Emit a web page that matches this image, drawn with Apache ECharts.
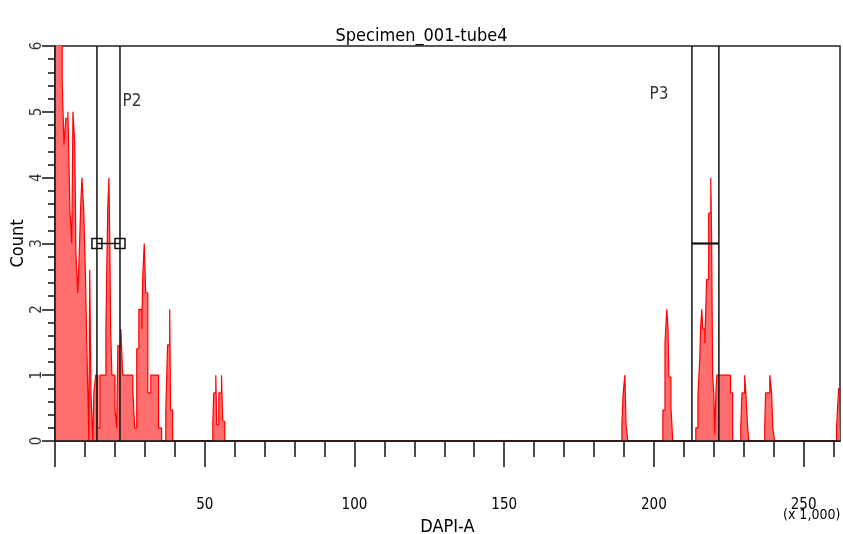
<!DOCTYPE html>
<html>
<head>
<meta charset="utf-8">
<script src="https://cdn.jsdelivr.net/npm/echarts@6/dist/echarts.min.js"></script>
<style>
html,body{margin:0;padding:0;background:#fff;}
#chart{width:843px;height:534px;}
</style>
</head>
<body>
<div id="chart"></div>
<script>
// DAPI-A bin left edges (x 1,000) and smoothed counts
const dapi = [0, 2.4, 3.0, 3.6, 4.3, 4.6, 5.0, 5.6, 6.0, 6.6, 7.0, 7.6, 8.0, 8.6, 9.0, 9.6, 10.2, 10.6, 11.0, 11.3, 11.6, 12.0, 12.6, 13.0, 13.6, 14.3, 15.0, 17.0, 17.6, 18.0, 18.3, 18.6, 19.0, 19.6, 20.0, 20.6, 21.0, 22.0, 22.6, 26.0, 26.6, 27.3, 28.0, 29.0, 29.3, 29.8, 30.3, 31.0, 32.0, 34.6, 35.6, 37.0, 37.6, 38.3, 38.6, 39.3,
  52.7, 53.0, 53.7, 54.0, 54.7, 55.6, 56.0, 56.7,
  189.3, 189.7, 190.3, 190.7, 191.3,
  203.0, 203.7, 204.3, 204.7, 205.0, 205.7, 206.3,
  214.0, 214.7, 215.3, 215.6, 216.0, 216.3, 217.0, 217.6, 218.3, 219.0, 219.3, 219.6, 220.0, 220.3, 220.7, 221.0, 225.6, 226.3,
  229.0, 229.4, 230.3, 230.7, 231.3, 231.7,
  237.0, 237.3, 238.7, 239.3, 239.7, 240.3,
  261.0, 261.3, 261.7, 262.144];
const counts = [6.8, 5.45, 4.5, 4.9, 5.0, 4.4, 3.5, 3.0, 5.0, 4.5, 2.85, 2.25, 2.7, 3.6, 4.0, 3.5, 2.45, 1.5, 0.7, 0, 2.6, 0.75, 0, 0.75, 1.0, 0.2, 1.0, 1.7, 3.5, 4.0, 3.0, 1.65, 1.0, 1.0, 0.5, 0.2, 1.45, 1.7, 1.0, 0.75, 0.2, 1.4, 2.0, 1.7, 2.5, 3.0, 2.25, 0.73, 1.0, 0.2, 0, 0.47, 1.46, 2.0, 0.47, 0,
  0.25, 0.73, 1.0, 0.25, 0.73, 1.0, 0.3, 0,
  0.25, 0.7, 1.0, 0.25, 0,
  0.47, 1.49, 2.0, 1.73, 0.97, 0.5, 0,
  0.2, 0.7, 1.23, 1.72, 2.0, 1.7, 1.49, 2.45, 3.46, 4.0, 2.95, 1.0, 0.73, 0.1, 0.73, 1.0, 0.73, 0,
  0.2, 0.73, 1.0, 0.73, 0.2, 0,
  0.2, 0.73, 1.0, 0.73, 0.2, 0,
  0.2, 0.47, 0.8, 0.8];

const xMax = 262.144;
const xMajorTicks = [0, 50, 100, 150, 200, 250];
const xMinorTicks = [10, 20, 30, 40, 60, 70, 80, 90, 110, 120, 130, 140, 160, 170, 180, 190, 210, 220, 230, 240, 260];
const xTickLabels = [50, 100, 150, 200, 250];
const yTickLabels = [0, 1, 2, 3, 4, 5, 6];

// Gates
const gateP2 = [14.0, 21.7];
const gateP3 = [212.7, 221.7];
const gateLevel = 3;
const gateLabels = [{name: 'P2', pos: [25.7, 5.16]}, {name: 'P3', pos: [201.7, 5.26]}];

const FONT = '"Liberation Sans Narrow", "DejaVu Sans Condensed", Arial, sans-serif';

const hist = dapi.map((x, i) => [x, counts[i]]);

function vline(x) {
  return {
    type: 'line', xAxisIndex: 0, yAxisIndex: 0, data: [[x, 0], [x, 6]],
    symbol: 'none', silent: true, z: 5,
    lineStyle: {color: '#111', width: 1.5}
  };
}

const chart = echarts.init(document.getElementById('chart'), null, {renderer: 'canvas'});
chart.setOption({
  animation: false,
  backgroundColor: '#fff',
  title: {
    text: 'Specimen_001-tube4', left: 'center', top: 22,
    textStyle: {fontFamily: FONT, fontSize: 18, fontWeight: 'normal', color: '#000'}
  },
  grid: {left: 55, right: 3, top: 46, bottom: 93, outerBoundsMode: 'none', containLabel: false,
    show: true, borderColor: '#222', borderWidth: 1.5, backgroundColor: 'transparent'},
  xAxis: [{
    type: 'value', min: 0, max: xMax, z: 10,
    name: 'DAPI-A', nameLocation: 'middle', nameGap: 67,
    nameTextStyle: {fontFamily: FONT, fontSize: 18, color: '#000'},
    axisLine: {show: true, onZero: false, lineStyle: {color: '#111', width: 1.5}},
    axisTick: {show: true, customValues: xMajorTicks, length: 26, lineStyle: {color: '#111', width: 1.5}},
    axisLabel: {customValues: xTickLabels, margin: 57, fontFamily: FONT, fontSize: 15, color: '#000'},
    splitLine: {show: false}
  }, {
    type: 'value', min: 0, max: xMax, position: 'bottom',
    axisLine: {show: false},
    axisTick: {show: true, customValues: xMinorTicks, length: 16, lineStyle: {color: '#111', width: 1.5}},
    axisLabel: {show: false},
    splitLine: {show: false}
  }],
  yAxis: {
    type: 'value', min: 0, max: 6, interval: 1, z: 10,
    name: 'Count', nameLocation: 'middle', nameGap: 28, nameRotate: 90,
    nameTextStyle: {fontFamily: FONT, fontSize: 18, color: '#000'},
    axisLine: {show: true, lineStyle: {color: '#111', width: 1.5}},
    axisTick: {show: true, length: 13, lineStyle: {color: '#111', width: 1.5}},
    minorTick: {show: true, splitNumber: 5, length: 7, lineStyle: {color: '#111', width: 1.5}},
    axisLabel: {show: false},
    splitLine: {show: false}
  },
  series: [
    {
      type: 'line', data: hist, step: 'end', symbol: 'none', clip: true, z: 2,
      lineStyle: {color: '#ff0000', width: 1.2},
      areaStyle: {color: '#ff6e6e', opacity: 1}
    },
    vline(gateP2[0]), vline(gateP2[1]), vline(gateP3[0]), vline(gateP3[1]),
    {
      type: 'line', data: [[gateP2[0], gateLevel], [gateP2[1], gateLevel]],
      symbol: 'rect', symbolSize: 10, silent: true, z: 6,
      lineStyle: {color: '#111', width: 1.5},
      itemStyle: {color: 'rgba(255,255,255,0)', borderColor: '#111', borderWidth: 1.5}
    },
    {
      type: 'line', data: [[gateP3[0], gateLevel], [gateP3[1], gateLevel]],
      symbol: 'none', silent: true, z: 6,
      lineStyle: {color: '#111', width: 2.2}
    },
    {
      type: 'scatter', symbolSize: 0, silent: true, z: 7,
      data: gateLabels.map(g => ({name: g.name, value: g.pos})),
      label: {show: true, position: 'inside', formatter: '{b}', fontFamily: FONT, fontSize: 17, color: '#000'}
    },
    {
      // rotated y tick labels
      type: 'scatter', symbolSize: 0, silent: true, clip: false, z: 7,
      data: yTickLabels.map(v => [0, v]),
      label: {show: true, position: 'inside', rotate: 90, offset: [0, -18],
        formatter: p => String(p.value[1]), fontFamily: FONT, fontSize: 15, color: '#000'}
    }
  ],
  graphic: [{
    type: 'text', left: 783, top: 508,
    style: {text: '(x 1,000)', fontFamily: FONT, fontSize: 14, fill: '#000'}
  }]
});
</script>
</body>
</html>
